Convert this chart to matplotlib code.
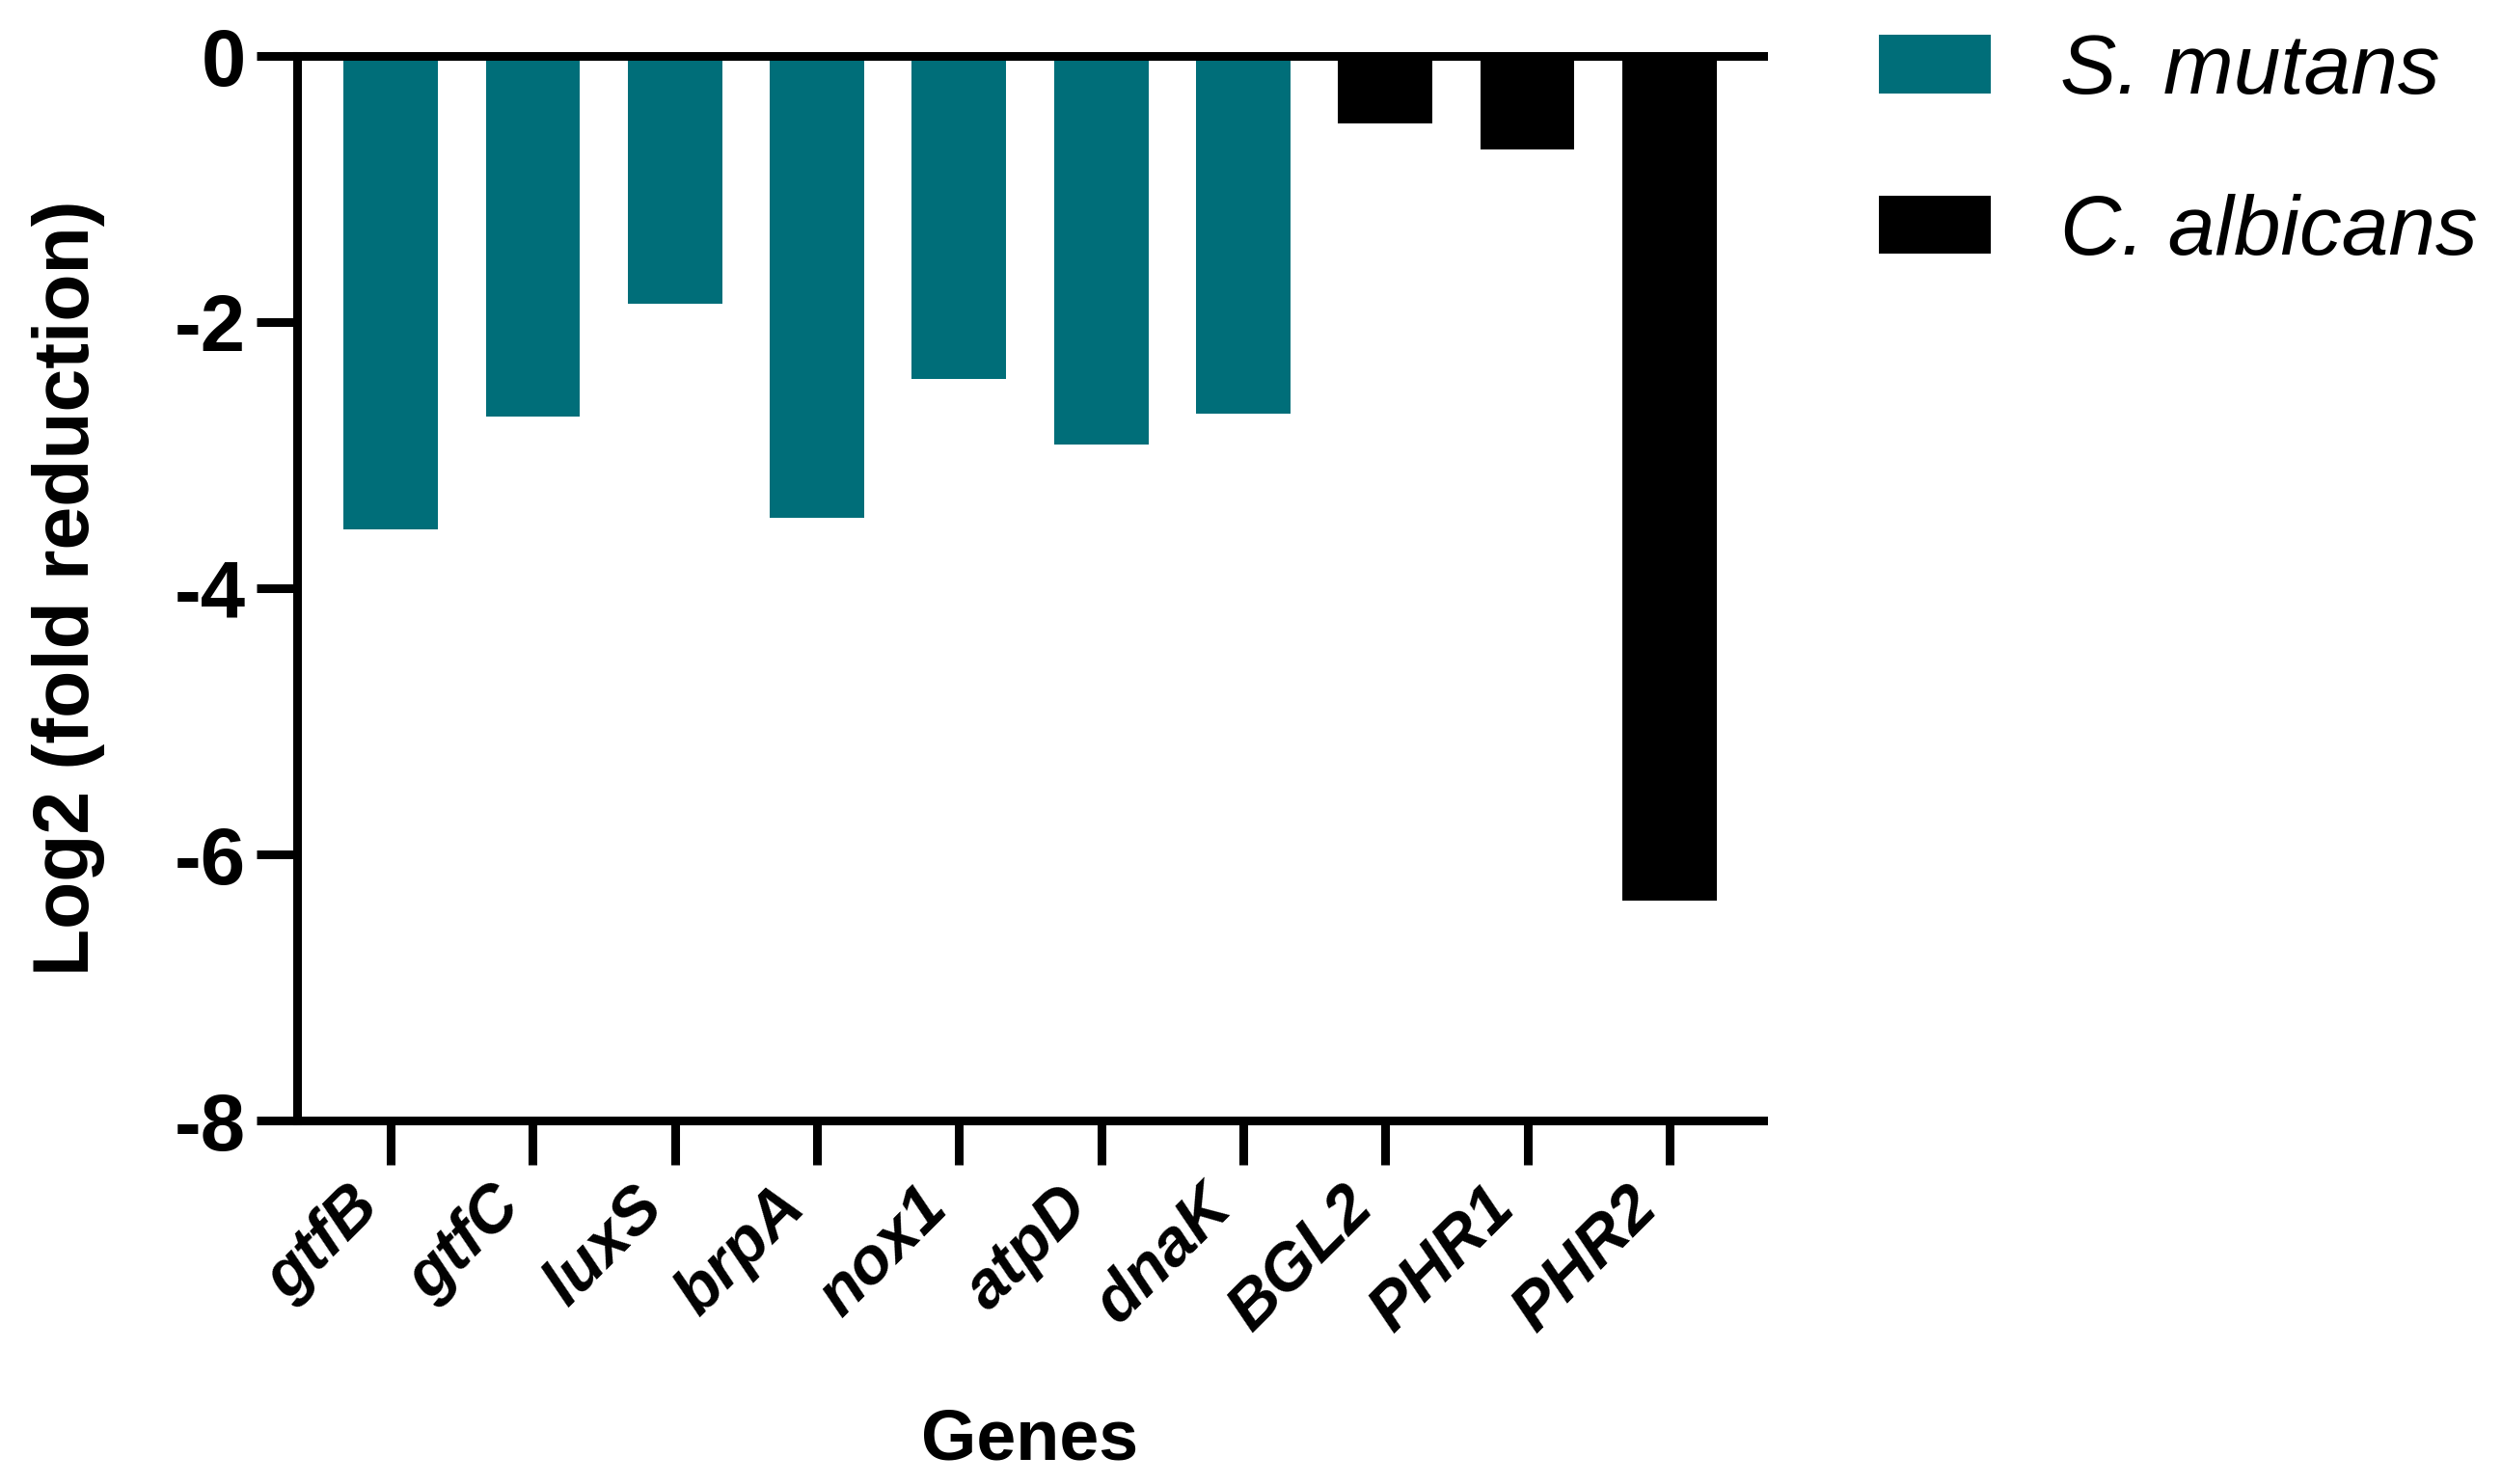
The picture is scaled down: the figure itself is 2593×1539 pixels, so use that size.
import numpy as np
import matplotlib
matplotlib.use("Agg")
import matplotlib.pyplot as plt
from matplotlib.patches import Patch
from matplotlib.transforms import ScaledTranslation

plt.rcParams['font.family'] = ['Liberation Sans', 'DejaVu Sans']

# datos
genes = ['gtfB', 'gtfC', 'luxS', 'brpA', 'nox1', 'atpD', 'dnaK', 'BGL2', 'PHR1', 'PHR2']
log2_fold = [-3.56, -2.71, -1.86, -3.47, -2.43, -2.92, -2.69, -0.51, -0.70, -6.35]
organismo = ['S. mutans'] * 7 + ['C. albicans'] * 3
colores = {'S. mutans': '#006e79', 'C. albicans': '#000000'}
yticks = [0, -2, -4, -6, -8]

fig = plt.figure(figsize=(25.93, 15.39), dpi=100)
ax = fig.add_axes([308 / 2593, 1 - 1162 / 1539, 1520 / 2593, 1104 / 1539])

x = np.arange(len(genes))
ax.bar(x, log2_fold, width=0.665, color=[colores[o] for o in organismo])

ax.set_xlim(-0.66, len(genes) - 1 + 0.66)
ax.set_ylim(-8, 0)
ax.set_yticks(yticks)
ax.set_yticklabels([str(v) for v in yticks])
ax.set_xticks(x)
ax.set_xticklabels(genes, rotation=45, ha='right', va='top',
                   fontsize=49, fontweight='bold', fontstyle='italic')

# mover un poco las etiquetas a la derecha
desplazamiento = ScaledTranslation(19 / 100, 0, fig.dpi_scale_trans)
for lab in ax.get_xticklabels():
    lab.set_transform(lab.get_transform() + desplazamiento)

for s in ['top', 'bottom', 'left']:
    ax.spines[s].set_linewidth(6.5)
ax.spines['right'].set_visible(False)

ax.tick_params(axis='y', length=30, width=6.5, labelsize=60, pad=8)
ax.tick_params(axis='x', length=33, width=6.5, pad=8)
for lab in ax.get_yticklabels():
    lab.set_fontweight('bold')

ax.set_ylabel('Log2 (fold reduction)', fontsize=58, fontweight='bold', labelpad=52)
ax.set_xlabel('Genes', fontsize=53, fontweight='bold', labelpad=48)

handles = [Patch(facecolor=colores[k], edgecolor='none') for k in colores]
fig.legend(handles, list(colores.keys()), loc='upper left',
           bbox_to_anchor=(1948 / 2593, 1 - 34 / 1539), frameon=False,
           prop={'size': 63, 'style': 'italic'}, borderpad=0, borderaxespad=0,
           handlelength=1.32, handleheight=0.69, handletextpad=0.83,
           labelspacing=0.98)

fig.savefig('out.png', dpi=100)
